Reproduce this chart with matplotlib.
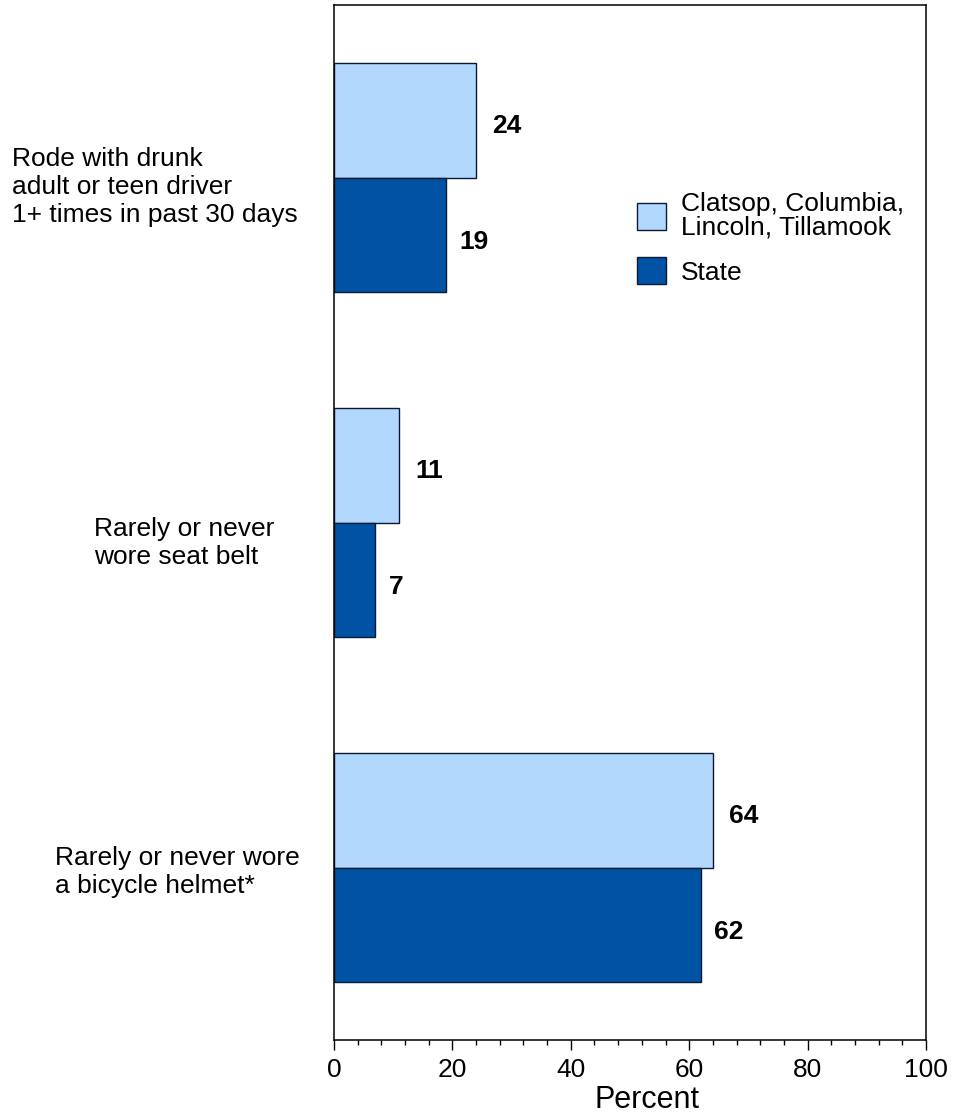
import matplotlib
matplotlib.use("Agg")
import matplotlib.pyplot as plt
from matplotlib.patches import Patch
from matplotlib.ticker import MultipleLocator
import numpy as np

plt.rcParams['font.family'] = ['Liberation Sans', 'DejaVu Sans']

categories = ["Rode with drunk\nadult or teen driver\n1+ times in past 30 days",
              "Rarely or never\nwore seat belt",
              "Rarely or never wore\na bicycle helmet*"]
series_names = ["Clatsop, Columbia,\nLincoln, Tillamook", "State"]
region_values = [24, 11, 64]
state_values = [19, 7, 62]
xticks = [0, 20, 40, 60, 80, 100]

light = "#B3D8FE"
dark = "#0052A4"
edge = "#0A1A33"

W, H = 958, 1117
fig = plt.figure(figsize=(W / 100, H / 100), dpi=100)
ax = fig.add_axes([334 / W, (H - 1040) / H, (926 - 334) / W, (1040 - 5) / H])

y = np.arange(len(categories))
h = 0.333
ax.barh(y - h / 2, region_values, height=h, color=light, edgecolor=edge, linewidth=1.0)
ax.barh(y + h / 2, state_values, height=h, color=dark, edgecolor=edge, linewidth=1.0)

for yi, v in zip(y, region_values):
    ax.annotate(str(v), (v, yi - h / 2), xytext=(16, -6), textcoords='offset pixels',
                ha='left', va='center', fontsize=19, fontweight='bold')
for yi, v in zip(y, state_values):
    ax.annotate(str(v), (v, yi + h / 2), xytext=(13, -7), textcoords='offset pixels',
                ha='left', va='center', fontsize=19, fontweight='bold')

ax.set_xlim(0, 100)
ax.set_ylim(2.5, -0.5)
ax.set_yticks([])
ax.set_xticks(xticks)
ax.set_xticklabels([str(t) for t in xticks])
ax.xaxis.set_minor_locator(MultipleLocator(4))
ax.tick_params(axis='x', which='major', length=7, width=1, direction='out', labelsize=19, pad=6)
ax.tick_params(axis='x', which='minor', length=3.5, width=1, direction='out')
ax.set_xlabel("Percent", fontsize=22)
ax.xaxis.set_label_coords((647 - 334) / 592, -(1115 - 1040) / 1035)
ax.xaxis.label.set_va('bottom')
for s in ax.spines.values():
    s.set_linewidth(1.1)
    s.set_color('black')

# category labels (left-aligned blocks)
label_pos = [(12, 187), (94, 543), (55, 872)]
for (lx, ly), txt in zip(label_pos, categories):
    fig.text(lx / W, 1 - ly / H, txt, ha='left', va='center', fontsize=19,
             multialignment='left', linespacing=1.2)

handles = [Patch(facecolor=light, edgecolor=edge, linewidth=1.0),
           Patch(facecolor=dark, edgecolor=edge, linewidth=1.0)]
leg = fig.legend(handles, series_names, loc='upper left',
                 bbox_to_anchor=(637 / W, 1 - 192 / H), frameon=False, fontsize=19,
                 handlelength=1.1, handleheight=1.2, handletextpad=0.55,
                 labelspacing=0.65, borderaxespad=0, borderpad=0)
for t in leg.get_texts():
    t.set_linespacing(1.0)

fig.savefig("out.png", dpi=100)
